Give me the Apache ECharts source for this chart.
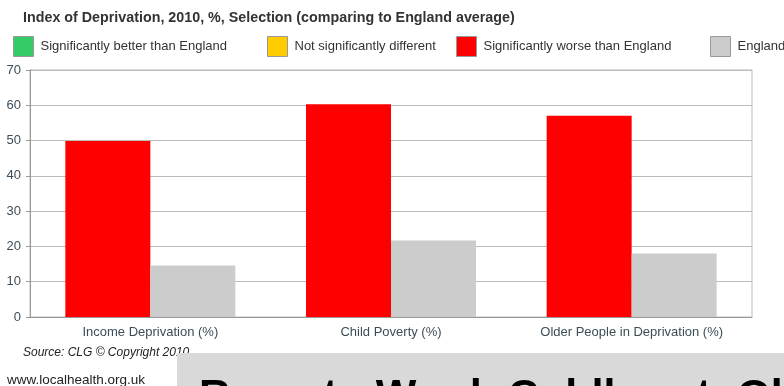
<!DOCTYPE html>
<html style="height: 100%">

<head>
	<meta charset="utf-8">
	<script type="text/javascript" src="https://cdn.jsdelivr.net/npm/echarts@6/dist/echarts.min.js"></script>
</head>

<body style="height: 100%; margin: 0; background: #fff">
	<div id="container" style="width: 784px; height: 386px;"></div>

	<script type="text/javascript">
		// chart data
		let categories = ['Income Deprivation (%)', 'Child Poverty (%)', 'Older People in Deprivation (%)'];
		let wardValues = [49.9, 60.3, 57.0];
		let englandValues = [14.6, 21.7, 18.0];
		let legendNames = ['Significantly better than England', 'Not significantly different', 'Significantly worse than England', 'England'];
		let legendColors = ['#33cc66', '#ffcc00', '#ff0000', '#cccccc'];
		let legendLeft = [13, 267, 456, 710];
		let yMin = 0, yMax = 70, yStep = 10;

		let dom = document.getElementById("container");
		let myChart = echarts.init(dom);

		let legends = legendNames.map(function (name, i) {
			return {
				data: [name],
				left: legendLeft[i],
				top: 36,
				padding: 0,
				itemWidth: 20,
				itemHeight: 20,
				icon: 'rect',
				itemStyle: { borderColor: '#999', borderWidth: 1 },
				textStyle: { fontFamily: 'Liberation Sans', fontSize: 13, color: '#333', padding: [0, 0, 0, 2] },
				selectedMode: false
			};
		});

		let option = {
			animation: false,
			title: {
				text: 'Index of Deprivation, 2010, %, Selection (comparing to England average)',
				left: 18,
				top: 6,
				textStyle: { fontFamily: 'Liberation Sans', fontSize: 14.3, fontWeight: 'bold', color: '#333' }
			},
			legend: legends,
			grid: {
				left: 30,
				right: 32,
				top: 70,
				bottom: 69,
				show: true,
				borderColor: '#bbb',
				borderWidth: 1
			},
			xAxis: {
				type: 'category',
				data: categories,
				axisTick: { show: false },
				axisLine: { lineStyle: { color: '#999' } },
				axisLabel: { margin: 9, fontFamily: 'Liberation Sans', fontSize: 13, color: '#3d4d57' }
			},
			yAxis: {
				type: 'value',
				min: yMin,
				max: yMax,
				interval: yStep,
				axisLine: { show: true, lineStyle: { color: '#999' } },
				axisTick: { show: true, length: 4, lineStyle: { color: '#999' } },
				splitLine: { lineStyle: { color: '#bbb' } },
				axisLabel: { margin: 9, fontFamily: 'Liberation Sans', fontSize: 13, color: '#3d4d57' }
			},
			series: [
				{ name: legendNames[0], type: 'line', data: [], itemStyle: { color: legendColors[0] }, lineStyle: { color: legendColors[0] } },
				{ name: legendNames[1], type: 'line', data: [], itemStyle: { color: legendColors[1] }, lineStyle: { color: legendColors[1] } },
				{
					name: legendNames[2], type: 'bar', data: wardValues,
					barWidth: 85, barGap: 0,
					itemStyle: { color: legendColors[2] }
				},
				{
					name: legendNames[3], type: 'bar', data: englandValues,
					barWidth: 85, barGap: 0,
					itemStyle: { color: legendColors[3] }
				}
			],
			graphic: [
				{
					type: 'text', left: 23, top: 347, z: 10,
					style: { text: 'Source: CLG \u00a9 Copyright 2010', font: 'italic 12px "Liberation Sans"', fill: '#222' }
				},
				{
					type: 'rect', left: 177, top: 353, z: 20,
					shape: { width: 620, height: 40 },
					style: { fill: '#d9d9d9' }
				},
				{
					type: 'text', left: 199, top: 376, z: 21,
					style: { text: 'Report - Ward: Coldhurst: Oldham', font: 'bold 43px "Liberation Sans"', fill: '#000' }
				},
				{
					type: 'text', left: 7, top: 373, z: 10,
					style: { text: 'www.localhealth.org.uk', font: '13.5px "Liberation Sans"', fill: '#222' }
				}
			]
		};

		myChart.setOption(option, true);
	</script>
</body>

</html>
